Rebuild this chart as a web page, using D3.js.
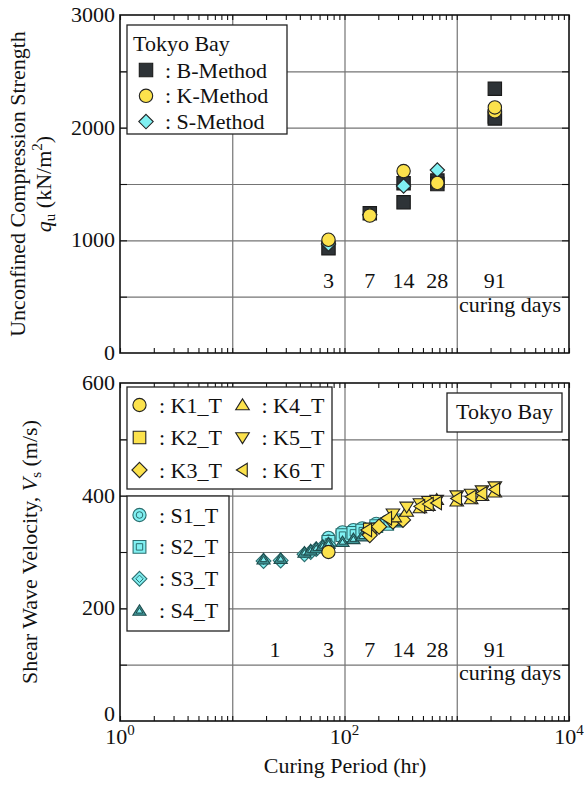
<!DOCTYPE html>
<html>
<head>
<meta charset="utf-8">
<script src="https://cdn.jsdelivr.net/npm/d3@7"></script>
<style>
  body { margin: 0; background: #fff; }
  text { font-family: "Liberation Serif", "Times New Roman", serif; fill: #111; }
  .grid line { stroke: #747474; stroke-width: 1.2; }
  .grid path, .ticks path { display: none; }
  .ticks line { stroke: #111; stroke-width: 1.1; }
</style>
</head>
<body>
<svg width="585" height="790"></svg>
<script>
// curing period (hr) and values
var dayLabels = ['1', '3', '7', '14', '28', '91'];
var dayHours = [24, 72, 168, 336, 672, 2184];

// top panel: q_u (kN/m2)
var bMethod = [[72, 930], [168, 1240], [336, 1506], [336, 1337], [672, 1530], [672, 1500], [2184, 2346], [2184, 2100], [2184, 2082]];
var sMethod = [[72, 968], [168, 1228], [336, 1482], [672, 1624]];
var kMethod = [[72, 1005], [168, 1220], [336, 1615], [672, 1509], [2184, 2145], [2184, 2180]];

// bottom panel: Vs (m/s)
var s1 = [[72, 325], [96, 335], [120, 339], [144, 342], [192, 350], [240, 354]];
var s2 = [[72, 318], [96, 330], [120, 334], [144, 338], [192, 346], [240, 350], [288, 356]];
var s3 = [[19, 284], [27, 285], [44, 296], [50, 300], [56, 305], [64, 309], [72, 313]];
var s4 = [[19, 287], [27, 288], [44, 299], [50, 303], [56, 307], [64, 311], [72, 315], [96, 318], [120, 323], [144, 328], [288, 355]];
var k1 = [[72, 300]];
var k2 = [[168, 340]];
var k3 = [[168, 330], [203, 345], [270, 354], [332, 357]];
var k4 = [[280, 362], [358, 372], [470, 378], [560, 382], [663, 393], [1000, 390], [1344, 394], [1680, 400], [2184, 406]];
var k5 = [[270, 368], [358, 380], [470, 386], [560, 390], [663, 392], [1000, 400], [1344, 403], [1680, 409], [2184, 416]];
var k6 = [[158, 339], [238, 360], [470, 381], [560, 385], [663, 387], [1000, 395], [1344, 398], [1680, 404], [2184, 411]];

var qTicks = [0, 1000, 2000, 3000];
var qGrid = [500, 1000, 1500, 2000, 2500];
var vTicks = [0, 200, 400, 600];
var vGrid = [100, 200, 300, 400, 500];
var xDecades = [1, 100, 10000];

var YELLOW = '#fce24c', CYAN = '#80f0f2', DARK = '#2e3337', TEAL = '#2b6d6e';

var svg = d3.select('svg');
var left = 120, right = 569;

var x = d3.scaleLog().domain([1, 1e4]).range([left, right]);
var yq = d3.scaleLinear().domain([0, 3000]).range([353, 15]);
var yv = d3.scaleLinear().domain([0, 600]).range([721, 383]);

function shape(t, s) {
  switch (t) {
    case 'circle': return `M${s},0A${s},${s} 0 1,1 ${-s},0A${s},${s} 0 1,1 ${s},0Z`;
    case 'square': return `M${-s},${-s}H${s}V${s}H${-s}Z`;
    case 'diamond': return `M0,${-s}L${s},0L0,${s}L${-s},0Z`;
    case 'up': return `M0,${-0.9 * s}L${s},${0.7 * s}L${-s},${0.7 * s}Z`;
    case 'down': return `M0,${0.9 * s}L${s},${-0.7 * s}L${-s},${-0.7 * s}Z`;
    case 'left': return `M${-0.9 * s},0L${0.7 * s},${-s}L${0.7 * s},${s}Z`;
  }
}

var styles = {
  B: { t: 'square', s: 6.7, fill: DARK, stroke: '#1a1a1a' },
  K: { t: 'circle', s: 6.7, fill: YELLOW, stroke: '#222' },
  S: { t: 'diamond', s: 7.2, fill: CYAN, stroke: '#222' },
  K1: { t: 'circle', s: 6.6, fill: YELLOW, stroke: '#222' },
  K2: { t: 'square', s: 6.3, fill: YELLOW, stroke: '#222' },
  K3: { t: 'diamond', s: 7.6, fill: YELLOW, stroke: '#222' },
  K4: { t: 'up', s: 6.8, fill: YELLOW, stroke: '#222' },
  K5: { t: 'down', s: 6.8, fill: YELLOW, stroke: '#222' },
  K6: { t: 'left', s: 6.8, fill: YELLOW, stroke: '#222' },
  S1: { t: 'circle', s: 6.6, fill: CYAN, stroke: TEAL, inner: true },
  S2: { t: 'square', s: 6.4, fill: CYAN, stroke: TEAL, inner: true },
  S3: { t: 'diamond', s: 7.4, fill: CYAN, stroke: TEAL, inner: true },
  S4: { t: 'up', s: 6.6, fill: '#3f9596', stroke: '#1f4d4e', inner: true }
};

function marker(g, st, cx, cy) {
  var m = g.append('g').attr('transform', `translate(${cx},${cy})`);
  m.append('path').attr('d', shape(st.t, st.s))
    .attr('fill', st.fill).attr('stroke', st.stroke).attr('stroke-width', 1.1);
  if (st.inner) {
    m.append('path').attr('d', shape(st.t, st.s * 0.5))
      .attr('fill', CYAN).attr('stroke', st.stroke).attr('stroke-width', 1);
  }
}

function series(g, data, y, st) {
  data.forEach(function (d) { marker(g, st, x(d[0]), y(d[1])); });
}

function panel(y, gridVals, labelVals, showX) {
  var g = svg.append('g');
  var y0 = y.range()[1], y1 = y.range()[0];

  g.append('g').attr('class', 'grid')
    .attr('transform', `translate(0,${y1})`)
    .call(d3.axisBottom(x).tickValues([10, 100, 1000]).tickSize(-(y1 - y0)).tickFormat(''));
  g.append('g').attr('class', 'grid')
    .attr('transform', `translate(${left},0)`)
    .call(d3.axisLeft(y).tickValues(gridVals).tickSize(-(right - left)).tickFormat(''));

  var minor = x.ticks();
  g.append('g').attr('class', 'ticks').attr('transform', `translate(0,${y1})`)
    .call(d3.axisBottom(x).tickValues(minor).tickSize(-5).tickFormat(''));
  g.append('g').attr('class', 'ticks').attr('transform', `translate(0,${y0})`)
    .call(d3.axisTop(x).tickValues(minor).tickSize(-5).tickFormat(''));
  g.append('g').attr('class', 'ticks').attr('transform', `translate(${left},0)`)
    .call(d3.axisLeft(y).tickValues(gridVals).tickSize(-7).tickFormat(''));
  g.append('g').attr('class', 'ticks').attr('transform', `translate(${right},0)`)
    .call(d3.axisRight(y).tickValues(gridVals).tickSize(-7).tickFormat(''));

  g.append('rect').attr('x', left).attr('y', y0)
    .attr('width', right - left).attr('height', y1 - y0)
    .attr('fill', 'none').attr('stroke', '#111').attr('stroke-width', 1.6);

  g.selectAll('.ylab').data(labelVals).enter().append('text')
    .attr('x', left - 5).attr('y', function (d) { return y(d) + (showX && d === 0 ? 0 : 7); })
    .attr('text-anchor', 'end').attr('font-size', 22)
    .text(function (d) { return d; });

  if (showX) {
    xDecades.forEach(function (d) {
      var t = g.append('text').attr('x', x(d)).attr('y', 744)
        .attr('text-anchor', 'middle').attr('font-size', 22);
      t.append('tspan').text('10');
      t.append('tspan').attr('font-size', 15).attr('dy', -9).text(Math.round(Math.log10(d)));
    });
  }
  return g;
}

// top panel
var gTop = panel(yq, qGrid, qTicks, false);
dayLabels.slice(1).forEach(function (d, i) {
  gTop.append('text').attr('x', x(dayHours[i + 1])).attr('y', 288)
    .attr('text-anchor', 'middle').attr('font-size', 22).text(d);
});
gTop.append('text').attr('x', 510).attr('y', 312)
  .attr('text-anchor', 'middle').attr('font-size', 22).text('curing days');

var mTop = gTop.append('g');
series(mTop, bMethod, yq, styles.B);
series(mTop, sMethod, yq, styles.S);
series(mTop, kMethod, yq, styles.K);

// top legend
var lg = gTop.append('g');
lg.append('rect').attr('x', 127).attr('y', 25).attr('width', 160).attr('height', 109)
  .attr('fill', '#fff').attr('stroke', '#222').attr('stroke-width', 1.3);
lg.append('text').attr('x', 133).attr('y', 51).attr('font-size', 22).text('Tokyo Bay');
[['B', ': B-Method'], ['K', ': K-Method'], ['S', ': S-Method']].forEach(function (e, i) {
  var yy = 70 + i * 25.8;
  marker(lg, styles[e[0]], 146, yy);
  lg.append('text').attr('x', 165).attr('y', yy + 7.5).attr('font-size', 22).text(e[1]);
});

// bottom panel
var gBot = panel(yv, vGrid, vTicks, true);
dayLabels.forEach(function (d, i) {
  gBot.append('text').attr('x', x(dayHours[i])).attr('y', 656.5)
    .attr('text-anchor', 'middle').attr('font-size', 22).text(d);
});
gBot.append('text').attr('x', 510).attr('y', 680)
  .attr('text-anchor', 'middle').attr('font-size', 22).text('curing days');

var mBot = gBot.append('g');
series(mBot, s1, yv, styles.S1);
series(mBot, s2, yv, styles.S2);
series(mBot, s3, yv, styles.S3);
series(mBot, s4, yv, styles.S4);
series(mBot, k1, yv, styles.K1);
series(mBot, k2, yv, styles.K2);
series(mBot, k3, yv, styles.K3);
series(mBot, k4, yv, styles.K4);
series(mBot, k5, yv, styles.K5);
series(mBot, k6, yv, styles.K6);

// bottom legends
var lk = gBot.append('g');
lk.append('rect').attr('x', 127).attr('y', 387).attr('width', 205).attr('height', 102)
  .attr('fill', '#fff').attr('stroke', '#222').attr('stroke-width', 1.3);
[['K1', ': K1_T'], ['K2', ': K2_T'], ['K3', ': K3_T']].forEach(function (e, i) {
  var yy = 405 + i * 32.5;
  marker(lk, styles[e[0]], 139.5, yy);
  lk.append('text').attr('x', 159).attr('y', yy + 7.5).attr('font-size', 22).text(e[1]);
});
[['K4', ': K4_T'], ['K5', ': K5_T'], ['K6', ': K6_T']].forEach(function (e, i) {
  var yy = 405 + i * 32.5;
  marker(lk, styles[e[0]], 242.5, yy);
  lk.append('text').attr('x', 261.5).attr('y', yy + 7.5).attr('font-size', 22).text(e[1]);
});

var ls = gBot.append('g');
ls.append('rect').attr('x', 127).attr('y', 496).attr('width', 102).attr('height', 135)
  .attr('fill', '#fff').attr('stroke', '#222').attr('stroke-width', 1.3);
[['S1', ': S1_T'], ['S2', ': S2_T'], ['S3', ': S3_T'], ['S4', ': S4_T']].forEach(function (e, i) {
  var yy = 515 + i * 31.9;
  marker(ls, styles[e[0]], 139.5, yy);
  ls.append('text').attr('x', 159).attr('y', yy + 7.5).attr('font-size', 22).text(e[1]);
});

var lt = gBot.append('g');
lt.append('rect').attr('x', 447).attr('y', 393).attr('width', 115).attr('height', 39)
  .attr('fill', '#fff').attr('stroke', '#222').attr('stroke-width', 1.3);
lt.append('text').attr('x', 504.5).attr('y', 419).attr('text-anchor', 'middle')
  .attr('font-size', 22).text('Tokyo Bay');

// axis titles
svg.append('text').attr('transform', 'translate(25,184) rotate(-90)')
  .attr('text-anchor', 'middle').attr('font-size', 22).text('Unconfined Compression Strength');
var t2 = svg.append('text').attr('transform', 'translate(51,184) rotate(-90)')
  .attr('text-anchor', 'middle').attr('font-size', 22);
t2.append('tspan').attr('font-style', 'italic').text('q');
t2.append('tspan').attr('font-size', 15).attr('dy', 4).text('u');
t2.append('tspan').attr('dy', -4).text(' (kN/m');
t2.append('tspan').attr('font-size', 15).attr('dy', -9).text('2');
t2.append('tspan').attr('dy', 9).text(')');

var t3 = svg.append('text').attr('transform', 'translate(37,552) rotate(-90)')
  .attr('text-anchor', 'middle').attr('font-size', 22);
t3.append('tspan').text('Shear Wave Velocity, ');
t3.append('tspan').attr('font-style', 'italic').text('V');
t3.append('tspan').attr('font-size', 15).attr('dy', 4).text('s');
t3.append('tspan').attr('dy', -4).text(' (m/s)');

svg.append('text').attr('x', 345).attr('y', 773).attr('text-anchor', 'middle')
  .attr('font-size', 22).text('Curing Period (hr)');
</script>
</body>
</html>
